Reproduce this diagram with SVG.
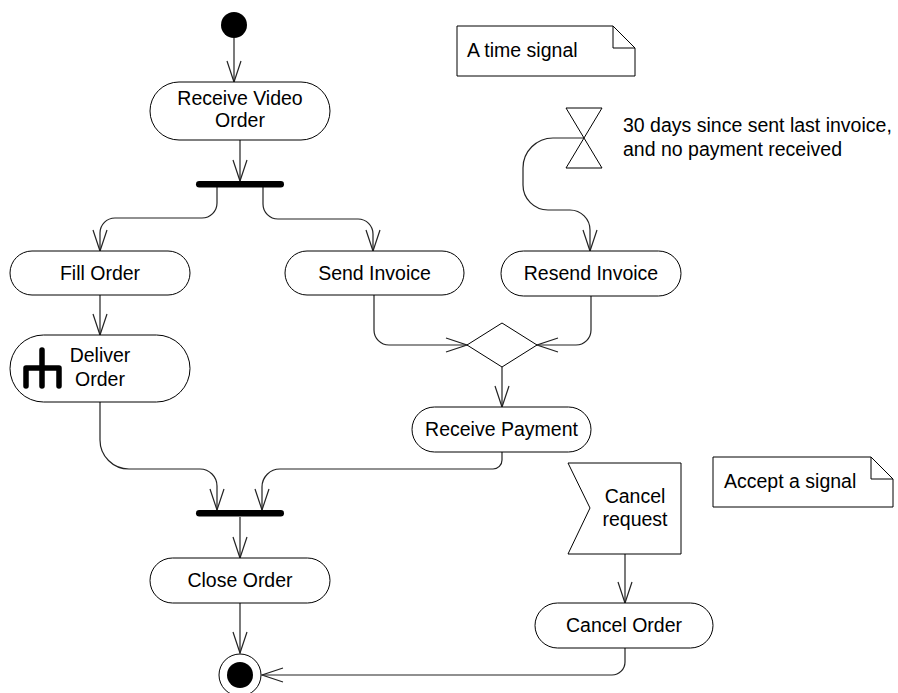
<svg xmlns="http://www.w3.org/2000/svg" width="898" height="693" viewBox="0 0 898 693">
<style>
.n{fill:#fff;stroke:#000;stroke-width:1}
.t{font-family:"Liberation Sans",Arial,sans-serif;font-size:19.5px;fill:#000}
.c{fill:none;stroke:#222;stroke-width:1.2}
.bar{fill:#000}
</style>
<defs>
<marker id="a" markerUnits="userSpaceOnUse" markerWidth="24" markerHeight="18" refX="22" refY="8" orient="auto" viewBox="0 0 24 16">
<path d="M1,1 L22,8 L1,15" fill="none" stroke="#222" stroke-width="1.2"/>
</marker>
</defs>
<rect width="898" height="693" fill="#fff"/>
<g id="connectors">
<path class="c" marker-end="url(#a)" d="M234,38 L234,82"/>
<path class="c" marker-end="url(#a)" d="M240,140 L240,181"/>
<path class="c" marker-end="url(#a)" d="M217,187 L217,203 A15,15 0 0 1 202,218 L115,218 A15,15 0 0 0 100,233 L100,251"/>
<path class="c" marker-end="url(#a)" d="M263,187 L263,204 A15,15 0 0 0 278,219 L358,219 A15,15 0 0 1 373,234 L373,251"/>
<path class="c" marker-end="url(#a)" d="M100,295 L100,335"/>
<path class="c" marker-end="url(#a)" d="M584,138 L553,138 A30,30 0 0 0 523,168 L523,185 A25,25 0 0 0 548,210 L570,210 A20,20 0 0 1 590,230 L590,251"/>
<path class="c" marker-end="url(#a)" d="M374,295 L374,330 A15,15 0 0 0 389,345 L467,345"/>
<path class="c" marker-end="url(#a)" d="M591,296 L591,330 A15,15 0 0 1 576,345 L537,345"/>
<path class="c" marker-end="url(#a)" d="M502,367 L502,407"/>
<path class="c" marker-end="url(#a)" d="M100,402 L100,440 A29,29 0 0 0 129,469 L200,469 A17,17 0 0 1 217,486 L217,510"/>
<path class="c" marker-end="url(#a)" d="M502,452 L502,460 A9,9 0 0 1 493,469 L280,469 A18,18 0 0 0 262,487 L262,510"/>
<path class="c" marker-end="url(#a)" d="M240,517 L240,558"/>
<path class="c" marker-end="url(#a)" d="M240,603 L240,653"/>
<path class="c" marker-end="url(#a)" d="M625,554 L625,603"/>
<path class="c" marker-end="url(#a)" d="M625,648 L625,662 A13,13 0 0 1 612,675 L262,675"/>
</g>
<g id="initial"><circle cx="234" cy="25" r="13" fill="#000"/></g>
<g id="receive-video-order">
<rect class="n" x="150" y="82" width="180" height="58" rx="29"/>
<text class="t" x="240" y="105" text-anchor="middle">Receive Video</text>
<text class="t" x="240" y="127" text-anchor="middle">Order</text>
</g>
<g id="fork"><rect class="bar" x="196" y="181" width="88" height="6.5" rx="3.2"/></g>
<g id="fill-order">
<rect class="n" x="10" y="251" width="180" height="44" rx="22"/>
<text class="t" x="100" y="280" text-anchor="middle">Fill Order</text>
</g>
<g id="send-invoice">
<rect class="n" x="285" y="251" width="179" height="44" rx="22"/>
<text class="t" x="374.5" y="280" text-anchor="middle">Send Invoice</text>
</g>
<g id="resend-invoice">
<rect class="n" x="501" y="251" width="180" height="45" rx="22.5"/>
<text class="t" x="591" y="280" text-anchor="middle">Resend Invoice</text>
</g>
<g id="deliver-order">
<rect class="n" x="10" y="335" width="180" height="67" rx="33.5"/>
<path d="M42,350 L42,368 M26,386 L26,368 L59,368 L59,386 M42,368 L42,386" fill="none" stroke="#000" stroke-width="5.5" stroke-linecap="round" stroke-linejoin="round"/>
<text class="t" x="100" y="362" text-anchor="middle">Deliver</text>
<text class="t" x="100" y="386" text-anchor="middle">Order</text>
</g>
<g id="time-signal-note">
<path class="n" d="M457,26 L613,26 L635,48 L635,76 L457,76 Z"/>
<path d="M613,26 L613,48 L635,48" fill="none" stroke="#000" stroke-width="1"/>
<text class="t" x="467" y="57">A time signal</text>
</g>
<g id="time-signal">
<path class="n" d="M566,108 L602,108 L566,168 L602,168 Z"/>
<text class="t" x="623" y="132">30 days since sent last invoice,</text>
<text class="t" x="623" y="156">and no payment received</text>
</g>
<g id="merge"><path class="n" d="M502,323 L537,345 L502,367 L467,345 Z"/></g>
<g id="receive-payment">
<rect class="n" x="412" y="407" width="179" height="45" rx="22.5"/>
<text class="t" x="501.5" y="436" text-anchor="middle">Receive Payment</text>
</g>
<g id="join"><rect class="bar" x="196" y="510" width="88" height="6.5" rx="3.2"/></g>
<g id="close-order">
<rect class="n" x="150" y="558" width="180" height="45" rx="22.5"/>
<text class="t" x="240" y="587" text-anchor="middle">Close Order</text>
</g>
<g id="cancel-request">
<path class="n" d="M568,463 L681,463 L681,554 L568,554 L590,508 Z"/>
<text class="t" x="635" y="503" text-anchor="middle">Cancel</text>
<text class="t" x="635" y="526" text-anchor="middle">request</text>
</g>
<g id="accept-signal-note">
<path class="n" d="M713,457 L871,457 L893,479 L893,507 L713,507 Z"/>
<path d="M871,457 L871,479 L893,479" fill="none" stroke="#000" stroke-width="1"/>
<text class="t" x="724" y="488">Accept a signal</text>
</g>
<g id="cancel-order">
<rect class="n" x="535" y="603" width="178" height="45" rx="22.5"/>
<text class="t" x="624" y="632" text-anchor="middle">Cancel Order</text>
</g>
<g id="final">
<circle cx="240" cy="675" r="21" fill="#fff" stroke="#000" stroke-width="1"/>
<circle cx="240" cy="675" r="13" fill="#000"/>
</g>
</svg>
